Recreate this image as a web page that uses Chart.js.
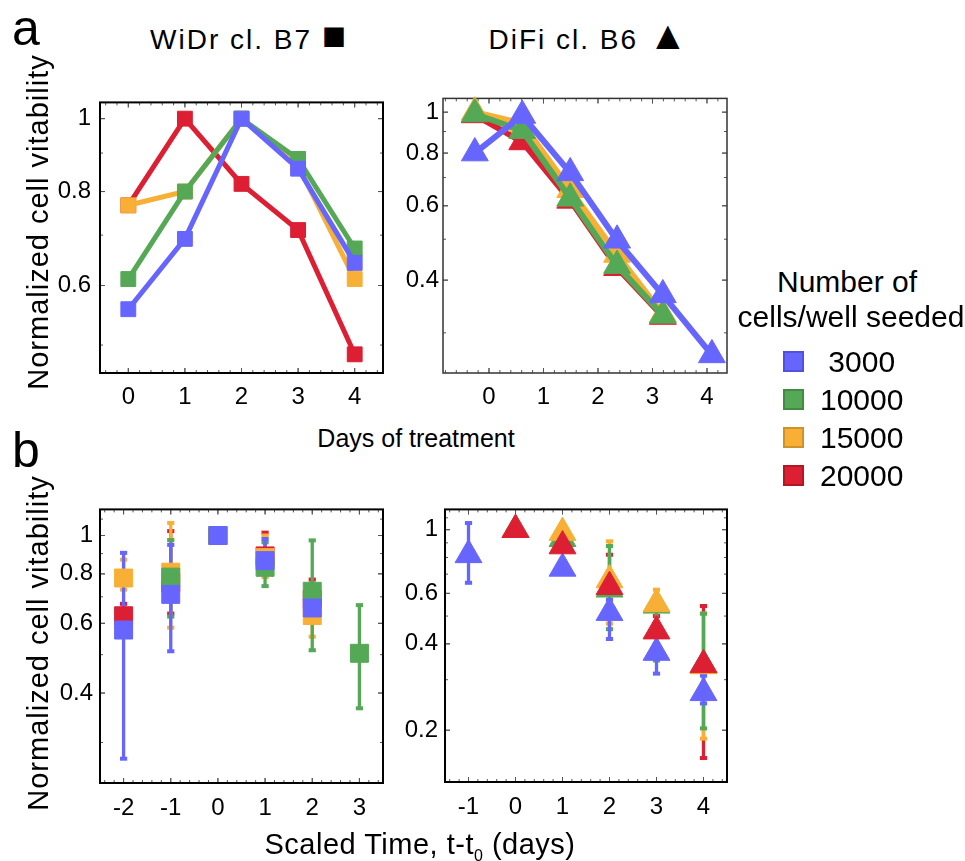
<!DOCTYPE html>
<html>
<head>
<meta charset="utf-8">
<script src="https://cdn.jsdelivr.net/npm/chart.js@4.4.1/dist/chart.umd.min.js"></script>
<style>
  html, body { margin: 0; padding: 0; background: #fff; }
  #fig { position: relative; width: 965px; height: 861px; overflow: hidden;
         font-family: "Liberation Sans", Arial, sans-serif; color: #000; }
  #fig canvas { position: absolute; }
  .lbl { position: absolute; white-space: pre; line-height: 1; }
  .center { transform: translateX(-50%); }
  .mark { font-size: 40px; line-height: 0; }
  .ytitle { position: absolute; white-space: nowrap; line-height: 1; font-size: 29px;
            letter-spacing: 1px; transform: translate(-50%, -50%) rotate(-90deg); }
  .sw { position: absolute; left: 783px; width: 17px; height: 17px; border: 2px solid; }
</style>
</head>
<body>
<div id="fig">
  <canvas id="aLeft"></canvas>
  <canvas id="aRight"></canvas>
  <canvas id="bLeft"></canvas>
  <canvas id="bRight"></canvas>

  <div class="lbl" style="left:12px;top:3px;font-size:50px;">a</div>
  <div class="lbl" style="left:12px;top:425px;font-size:50px;">b</div>
  <div class="lbl center" style="left:249px;top:26px;font-size:28px;letter-spacing:2px;">WiDr cl. B7 <span class="mark">■</span></div>
  <div class="lbl center" style="left:589px;top:26px;font-size:28px;letter-spacing:2px;">DiFi cl. B6 <span class="mark">▲</span></div>
  <div class="ytitle" style="left:38px;top:222px;">Normalized cell vitability</div>
  <div class="ytitle" style="left:38px;top:643px;">Normalized cell vitability</div>
  <div class="lbl center" style="left:416px;top:426px;font-size:25px;">Days of treatment</div>
  <div class="lbl center" style="left:420px;top:830px;font-size:29px;letter-spacing:0.5px;">Scaled Time, t-t<sub style="font-size:16px;">0</sub> (days)</div>

  <div class="lbl center" style="left:847px;top:267px;font-size:30px;">Number of</div>
  <div class="lbl center" style="left:851px;top:302px;font-size:30px;">cells/well seeded</div>
  <div id="legend"></div>
</div>

<script>
// ---------------- data ----------------
const seedings = ['3000', '10000', '15000', '20000'];

// a, WiDr cl. B7: daily readings
const widrDays  = [0, 1, 2, 3, 4];
const widr3000  = [0.558, 0.692, 1.0, 0.858, 0.643];
const widr10000 = [0.612, 0.800, 1.0, 0.884, 0.672];
const widr15000 = [0.767, 0.800, 1.0, 0.866, 0.612];
const widr20000 = [0.767, 1.0, 0.819, 0.711, 0.486];

// a, DiFi cl. B6: reading times in days
const difiDays  = [-0.26, 0.61, 1.49, 2.35, 3.19, 4.09];
const difi3000  = [0.800, 0.982, 0.718, 0.497, 0.369, 0.266];
const difi10000 = [0.990, 0.904, 0.625, 0.433, 0.330, null];
const difi15000 = [1.0, 0.940, 0.655, 0.460, 0.332, null];
const difi20000 = [0.985, 0.850, 0.618, 0.428, 0.328, null];

// b, WiDr: scaled time t - t0, mean with low / high range
const widrScaled    = [-2, -1, 0, 1, 2, 3];
const sWidr3000     = [0.577, 0.710, 1.0, 0.864, 0.656, null];
const sWidr3000Lo   = [0.273, 0.510, null, 0.800, 0.630, null];
const sWidr3000Hi   = [0.904, 0.947, null, 0.980, 0.700, null];
const sWidr10000    = [null, 0.785, 1.0, 0.831, 0.723, 0.504];
const sWidr10000Lo  = [null, 0.624, null, 0.745, 0.513, 0.366];
const sWidr10000Hi  = [null, 0.974, null, 0.961, 0.972, 0.667];
const sWidr15000    = [0.781, 0.808, 1.0, 0.879, 0.628, null];
const sWidr15000Lo  = [0.730, 0.585, null, 0.785, 0.555, null];
const sWidr15000Hi  = [0.869, 1.076, null, 1.000, 0.700, null];
const sWidr20000    = [0.627, 0.760, 1.0, 0.888, 0.690, null];
const sWidr20000Lo  = [0.585, 0.635, null, 0.820, 0.620, null];
const sWidr20000Hi  = [0.672, 1.026, null, 1.017, 0.774, null];

// b, DiFi: scaled time t - t0
const difiScaled    = [-1, 0, 1, 2, 3, 4];
const sDifi3000     = [0.817, 1.0, 0.733, 0.514, 0.373, 0.270];
const sDifi3000Lo   = [0.653, null, null, 0.416, 0.315, 0.248];
const sDifi3000Hi   = [1.055, null, null, 0.570, 0.430, 0.310];
const sDifi10000    = [null, 1.0, 0.930, 0.620, 0.545, 0.338];
const sDifi10000Lo  = [null, null, null, 0.450, 0.350, 0.203];
const sDifi10000Hi  = [null, null, null, 0.877, 0.580, 0.510];
const sDifi15000    = [null, 1.0, 0.977, 0.668, 0.551, 0.335];
const sDifi15000Lo  = [null, null, null, 0.471, 0.470, 0.187];
const sDifi15000Hi  = [null, null, null, 0.911, 0.618, 0.510];
const sDifi20000    = [null, 1.0, 0.877, 0.633, 0.443, 0.338];
const sDifi20000Lo  = [null, null, null, 0.520, 0.400, 0.160];
const sDifi20000Hi  = [null, null, null, 0.818, 0.500, 0.542];

// tick values
const dayTicks         = [0, 1, 2, 3, 4];
const widrScaledTicks  = [-2, -1, 0, 1, 2, 3];
const difiScaledTicks  = [-1, 0, 1, 2, 3, 4];
const widrYTicks       = [0.6, 0.8, 1];
const difiYTicks       = [0.4, 0.6, 0.8, 1];
const widrScaledYTicks = [0.4, 0.6, 0.8, 1];
const difiScaledYTicks = [0.2, 0.4, 0.6, 1];

// ---------------- styling ----------------
const colors = { '3000': '#6666FF', '10000': '#55A855', '15000': '#F7B035', '20000': '#DC1F33' };
const edge   = { '3000': '#4848C8', '10000': '#3C7E3C', '15000': '#B98526', '20000': '#A0141F' };
const FONT = '"Liberation Sans", Arial, sans-serif';

// legend
const legendEl = document.getElementById('legend');
seedings.forEach((s, i) => {
  const top = 351 + i * 38;
  const sw = document.createElement('div');
  sw.className = 'sw';
  sw.style.top = top + 'px';
  sw.style.background = colors[s];
  sw.style.borderColor = edge[s] + 'B0';
  legendEl.appendChild(sw);
  const t = document.createElement('div');
  t.className = 'lbl';
  t.style.left = '820px';
  t.style.top = (top - 4) + 'px';
  t.style.fontSize = '30px';
  t.textContent = (s.length === 4 ? ' ' : '') + s;
  legendEl.appendChild(t);
});

// frame with small inward tick marks on all four sides
const framePlugin = {
  id: 'frame',
  beforeDatasetsDraw(chart, args, o) {
    const { ctx, chartArea: a, scales: { x, y } } = chart;
    ctx.save();
    ctx.strokeStyle = '#555';
    ctx.lineWidth = 1;
    const xs = x.ticks.map(t => t.value);
    const ys = y.ticks.map(t => t.value);
    const mark = (v, isX, major) => {
      const len = major ? 5 : 3;
      ctx.beginPath();
      if (isX) {
        const p = x.getPixelForValue(v);
        if (p <= a.left + 2 || p >= a.right - 2) return;
        ctx.moveTo(p, a.bottom); ctx.lineTo(p, a.bottom - len);
        ctx.moveTo(p, a.top); ctx.lineTo(p, a.top + len);
      } else {
        const p = y.getPixelForValue(v);
        if (p <= a.top + 2 || p >= a.bottom - 2) return;
        ctx.moveTo(a.left, p); ctx.lineTo(a.left + len, p);
        ctx.moveTo(a.right, p); ctx.lineTo(a.right - len, p);
      }
      ctx.stroke();
    };
    for (let v = Math.ceil(x.min / o.xMinor) * o.xMinor; v <= x.max; v += o.xMinor) {
      const r = Math.round(v * 1000) / 1000;
      mark(r, true, xs.some(t => Math.abs(t - r) < 1e-6));
    }
    xs.forEach(v => mark(v, true, true));
    for (let v = Math.ceil(y.min * 10) / 10; v <= y.max; v += 0.1) {
      const r = Math.round(v * 1000) / 1000;
      mark(r, false, ys.some(t => Math.abs(t - r) < 1e-6));
    }
    ys.forEach(v => mark(v, false, true));
    ctx.strokeStyle = o.color;
    ctx.lineWidth = o.width;
    ctx.strokeRect(a.left, a.top, a.right - a.left, a.bottom - a.top);
    ctx.restore();
  }
};

const pts = (xs, ys) => xs.map((x, i) => ({ x, y: ys[i] })).filter(p => p.y != null);

function seriesLine(s, xs, ys, order, style, radius, width) {
  return {
    type: 'line', data: pts(xs, ys), order, clip: false,
    borderColor: colors[s], borderWidth: width, showLine: width > 0,
    pointStyle: style, pointRadius: radius, pointHoverRadius: radius,
    pointBackgroundColor: colors[s], pointBorderColor: colors[s], pointBorderWidth: 1
  };
}

function errorBars(s, xs, lo, hi, order) {
  const data = [];
  xs.forEach((x, i) => {
    if (lo[i] == null || hi[i] == null) return;
    data.push({ x, y: lo[i] }, { x, y: hi[i] }, { x, y: null });
  });
  return {
    type: 'line', data, order, clip: false, spanGaps: false,
    borderColor: colors[s], borderWidth: 3.3,
    pointStyle: 'line', pointRadius: 3.6, pointHoverRadius: 3.6,
    pointBorderColor: colors[s], pointBorderWidth: 4
  };
}

function makeChart(id, frame, opt) {
  const pad = { top: 12, right: 12 };
  const yW = 60, xH = 48;
  const w = frame.R - frame.L + yW + pad.right;
  const h = frame.B - frame.T + pad.top + xH;
  const cv = document.getElementById(id);
  cv.width = w; cv.height = h;
  cv.style.left = (frame.L - yW) + 'px';
  cv.style.top = (frame.T - pad.top) + 'px';
  cv.style.width = w + 'px';
  cv.style.height = h + 'px';
  const font = { family: FONT, size: 24 };
  return new Chart(cv, {
    type: 'line',
    data: { datasets: opt.datasets },
    plugins: [framePlugin],
    options: {
      responsive: false, animation: false, events: [],
      layout: { autoPadding: false, padding: { left: 0, top: pad.top, right: pad.right, bottom: 0 } },
      plugins: {
        legend: { display: false }, tooltip: { enabled: false },
        frame: { color: opt.frameColor, width: opt.frameWidth, xMinor: opt.xMinor }
      },
      scales: {
        x: {
          type: 'linear', min: opt.xMin, max: opt.xMax, offset: false,
          grid: { display: false, drawTicks: false }, border: { display: false },
          afterBuildTicks: sc => { sc.ticks = opt.xTicks.map(v => ({ value: v })); },
          afterFit: sc => { sc.height = xH; },
          ticks: { autoSkip: false, maxRotation: 0, minRotation: 0, padding: opt.xPad,
                   color: '#000', font, callback: v => String(v) }
        },
        y: {
          type: 'logarithmic', min: opt.yMin, max: opt.yMax,
          grid: { display: false, drawTicks: false }, border: { display: false },
          afterBuildTicks: sc => { sc.ticks = opt.yTicks.map(v => ({ value: v })); },
          afterFit: sc => { sc.width = yW; },
          ticks: { autoSkip: false, padding: opt.yPad, color: '#000', font,
                   callback: v => String(v) }
        }
      }
    }
  });
}

// panel a, left: WiDr
const widrSeries = { '3000': widr3000, '10000': widr10000, '15000': widr15000, '20000': widr20000 };
makeChart('aLeft', { L: 100, R: 383, T: 91, B: 373 }, {
  xMin: -0.5, xMax: 4.5, xTicks: dayTicks, xMinor: 0.2, xPad: 10,
  yMin: 0.459, yMax: 1.051, yTicks: widrYTicks, yPad: 9,
  frameColor: '#000', frameWidth: 2,
  datasets: seedings.map((s, i) => seriesLine(s, widrDays, widrSeries[s], i + 1, 'rect', 10.5, 5))
});

// panel a, right: DiFi
const difiSeries = { '3000': difi3000, '10000': difi10000, '15000': difi15000, '20000': difi20000 };
makeChart('aRight', { L: 443, R: 727, T: 92, B: 373 }, {
  xMin: -0.844, xMax: 4.367, xTicks: dayTicks, xMinor: 0.2, xPad: 10,
  yMin: 0.241, yMax: 1.078, yTicks: difiYTicks, yPad: 4,
  frameColor: '#333', frameWidth: 1.5,
  datasets: seedings.map((s, i) => seriesLine(s, difiDays, difiSeries[s], i + 1, 'triangle', 15.5, 6))
});

// panel b, left: WiDr on scaled time
const sWidr = {
  '3000':  [sWidr3000, sWidr3000Lo, sWidr3000Hi],
  '10000': [sWidr10000, sWidr10000Lo, sWidr10000Hi],
  '15000': [sWidr15000, sWidr15000Lo, sWidr15000Hi],
  '20000': [sWidr20000, sWidr20000Lo, sWidr20000Hi]
};
makeChart('bLeft', { L: 100, R: 383, T: 500, B: 783 }, {
  xMin: -2.5, xMax: 3.5, xTicks: widrScaledTicks, xMinor: 0.2, xPad: 11,
  yMin: 0.237, yMax: 1.164, yTicks: widrScaledYTicks, yPad: 7,
  frameColor: '#000', frameWidth: 2,
  datasets: [
    ...seedings.map((s, i) => errorBars(s, widrScaled, sWidr[s][1], sWidr[s][2], 10 + i)),
    ...seedings.map((s, i) => seriesLine(s, widrScaled, sWidr[s][0], i + 1, 'rect', 12.7, 0))
  ]
});

// panel b, right: DiFi on scaled time (20000 drawn on top)
const sDifi = {
  '3000':  [sDifi3000, sDifi3000Lo, sDifi3000Hi],
  '10000': [sDifi10000, sDifi10000Lo, sDifi10000Hi],
  '15000': [sDifi15000, sDifi15000Lo, sDifi15000Hi],
  '20000': [sDifi20000, sDifi20000Lo, sDifi20000Hi]
};
makeChart('bRight', { L: 445, R: 727, T: 500, B: 782 }, {
  xMin: -1.5, xMax: 4.5, xTicks: difiScaledTicks, xMinor: 0.2, xPad: 11,
  yMin: 0.132, yMax: 1.177, yTicks: difiScaledYTicks, yPad: 7,
  frameColor: '#000', frameWidth: 2,
  datasets: [
    ...seedings.map((s, i) => errorBars(s, difiScaled, sDifi[s][1], sDifi[s][2], 10 + i)),
    ...seedings.map((s, i) => seriesLine(s, difiScaled, sDifi[s][0], 4 - i, 'triangle', 15.5, 0))
  ]
});
</script>
</body>
</html>
